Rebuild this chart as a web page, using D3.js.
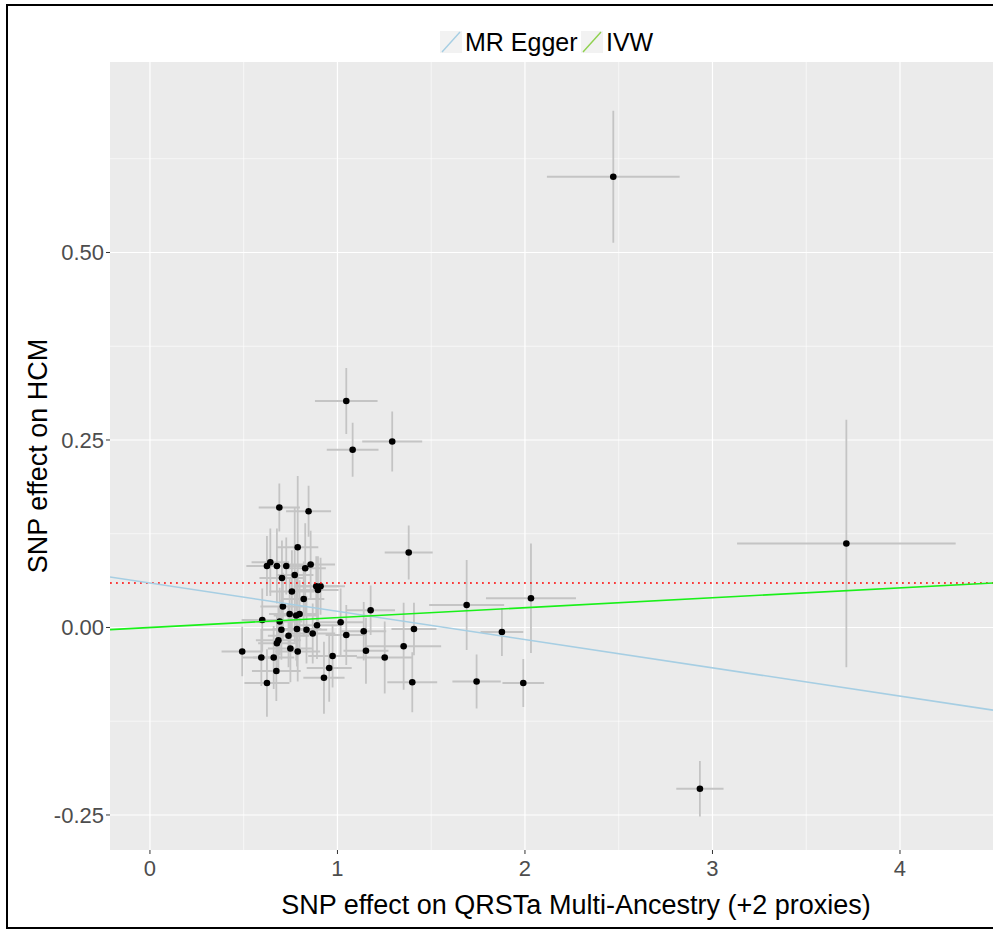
<!DOCTYPE html>
<html lang="en">
<head>
  <meta charset="UTF-8">
  <title>MR scatter plot</title>
  <script src="https://d3js.org/d3.v7.min.js"></script>
  <style>
    body, html { margin: 0; padding: 0; background: #fff; }
    svg { display: block; font-family: "Liberation Sans", Arial, sans-serif; }
    .tick-label { font-size: 22px; fill: #4d4d4d; }
    .axis-title { font-size: 27px; fill: #000; }
    .legend-text { font-size: 25px; fill: #000; }
  </style>
</head>
<body>
  <svg id="chart" width="993" height="930"></svg>
  <script>
    // SNP effects
    const snpX = [2.471, 1.047, 1.081, 1.292, 1.380, 3.714, 2.933, 1.689, 2.032, 1.877,
      1.742, 1.991, 1.399, 1.408, 1.353, 1.252, 1.177, 1.140, 1.152, 1.047,
      1.017, 0.974, 0.956, 0.928, 0.690, 0.846, 0.788, 0.624, 0.642, 0.677,
      0.727, 0.828, 0.857, 0.704, 0.772, 0.887, 0.910, 0.896, 0.757, 0.820,
      0.709, 0.745, 0.780, 0.798, 0.599, 0.692, 0.891, 0.701, 0.784, 0.835,
      0.868, 0.739, 0.685, 0.677, 0.492, 0.749, 0.788, 0.594, 0.660, 0.674, 0.624];
    const snpY = [0.601, 0.302, 0.237, 0.248, 0.100, 0.112, -0.215, 0.030, 0.039, -0.006,
      -0.072, -0.074, -0.073, -0.002, -0.025, -0.040, 0.023, -0.005, -0.031, -0.010,
      0.007, -0.038, -0.054, -0.067, 0.160, 0.155, 0.107, 0.082, 0.087, 0.082,
      0.082, 0.079, 0.084, 0.066, 0.070, 0.055, 0.055, 0.050, 0.048, 0.038,
      0.028, 0.018, 0.016, 0.018, 0.010, 0.008, 0.003, -0.003, -0.002, -0.003,
      -0.008, -0.011, -0.017, -0.021, -0.032, -0.028, -0.032, -0.040, -0.040, -0.058, -0.074];
    const seX = [0.354, 0.167, 0.138, 0.160, 0.128, 0.583, 0.126, 0.200, 0.240, 0.114,
      0.129, 0.111, 0.133, 0.120, 0.200, 0.150, 0.130, 0.120, 0.120, 0.110,
      0.120, 0.130, 0.120, 0.110, 0.110, 0.120, 0.110, 0.110, 0.100, 0.120,
      0.120, 0.110, 0.130, 0.120, 0.100, 0.120, 0.130, 0.110, 0.120, 0.110,
      0.120, 0.110, 0.120, 0.100, 0.110, 0.120, 0.120, 0.110, 0.130, 0.110,
      0.120, 0.110, 0.120, 0.100, 0.110, 0.120, 0.120, 0.100, 0.110, 0.130, 0.120];
    const seY = [0.088, 0.044, 0.036, 0.040, 0.036, 0.165, 0.037, 0.060, 0.073, 0.032,
      0.036, 0.032, 0.040, 0.035, 0.058, 0.048, 0.033, 0.039, 0.044, 0.040,
      0.045, 0.042, 0.045, 0.048, 0.032, 0.034, 0.095, 0.040, 0.045, 0.050,
      0.038, 0.060, 0.045, 0.050, 0.090, 0.040, 0.038, 0.045, 0.055, 0.050,
      0.045, 0.048, 0.060, 0.045, 0.042, 0.045, 0.045, 0.040, 0.050, 0.045,
      0.040, 0.042, 0.045, 0.040, 0.033, 0.045, 0.040, 0.038, 0.042, 0.040, 0.045];

    // fitted lines
    const methods = ["MR Egger", "IVW"];
    const intercepts = [0.0593, 0];
    const slopes = [-0.0377, 0.0132];
    const lineColors = ["#a6cee3", "#19f019"];
    const keyColors = ["#a6cee3", "#8fd14f"];
    const eggerIntercept = 0.0593;

    const xTicks = [0, 1, 2, 3, 4];
    const yTicks = [-0.25, 0, 0.25, 0.5];
    const xMinor = [0.5, 1.5, 2.5, 3.5, 4.5];
    const yMinor = [-0.125, 0.125, 0.375, 0.625];

    const panel = { left: 110, right: 993, top: 62, bottom: 850 };
    const svg = d3.select("#chart");

    // outer frame
    svg.append("rect")
      .attr("x", 7).attr("y", 5).attr("width", 1000).attr("height", 923)
      .attr("fill", "none").attr("stroke", "#000").attr("stroke-width", 2);

    const x = d3.scaleLinear().domain([-0.213, 4.496]).range([panel.left, panel.right]);
    const y = d3.scaleLinear().domain([-0.2967, 0.754]).range([panel.bottom, panel.top]);

    svg.append("defs").append("clipPath").attr("id", "clip")
      .append("rect")
      .attr("x", panel.left).attr("y", panel.top)
      .attr("width", panel.right - panel.left).attr("height", panel.bottom - panel.top);

    svg.append("rect")
      .attr("x", panel.left).attr("y", panel.top)
      .attr("width", panel.right - panel.left).attr("height", panel.bottom - panel.top)
      .attr("fill", "#ebebeb");

    const g = svg.append("g").attr("clip-path", "url(#clip)");

    // grid
    g.selectAll(".xminor").data(xMinor).enter().append("line")
      .attr("x1", d => x(d)).attr("x2", d => x(d))
      .attr("y1", panel.top).attr("y2", panel.bottom)
      .attr("stroke", "#fff").attr("stroke-width", 0.6);
    g.selectAll(".yminor").data(yMinor).enter().append("line")
      .attr("y1", d => y(d)).attr("y2", d => y(d))
      .attr("x1", panel.left).attr("x2", panel.right)
      .attr("stroke", "#fff").attr("stroke-width", 0.6);
    g.selectAll(".xmajor").data(xTicks).enter().append("line")
      .attr("x1", d => x(d)).attr("x2", d => x(d))
      .attr("y1", panel.top).attr("y2", panel.bottom)
      .attr("stroke", "#fff").attr("stroke-width", 1.2);
    g.selectAll(".ymajor").data(yTicks).enter().append("line")
      .attr("y1", d => y(d)).attr("y2", d => y(d))
      .attr("x1", panel.left).attr("x2", panel.right)
      .attr("stroke", "#fff").attr("stroke-width", 1.2);

    // error bars
    const idx = d3.range(snpX.length);
    g.selectAll(".ebx").data(idx).enter().append("line")
      .attr("x1", i => x(snpX[i] - seX[i])).attr("x2", i => x(snpX[i] + seX[i]))
      .attr("y1", i => y(snpY[i])).attr("y2", i => y(snpY[i]))
      .attr("stroke", "#c4c4c4").attr("stroke-width", 1.8);
    g.selectAll(".eby").data(idx).enter().append("line")
      .attr("x1", i => x(snpX[i])).attr("x2", i => x(snpX[i]))
      .attr("y1", i => y(snpY[i] - seY[i])).attr("y2", i => y(snpY[i] + seY[i]))
      .attr("stroke", "#c4c4c4").attr("stroke-width", 1.8);

    // points
    g.selectAll(".pt").data(idx).enter().append("circle")
      .attr("cx", i => x(snpX[i])).attr("cy", i => y(snpY[i]))
      .attr("r", 3.3).attr("fill", "#000");

    // red dotted intercept line
    g.append("line")
      .attr("x1", panel.left).attr("x2", panel.right)
      .attr("y1", y(eggerIntercept)).attr("y2", y(eggerIntercept))
      .attr("stroke", "#ff0000").attr("stroke-width", 1.6)
      .attr("stroke-dasharray", "1.8,4.2");

    // regression lines
    const xd = x.domain();
    methods.forEach((m, k) => {
      g.append("line")
        .attr("x1", x(xd[0])).attr("y1", y(intercepts[k] + slopes[k] * xd[0]))
        .attr("x2", x(xd[1])).attr("y2", y(intercepts[k] + slopes[k] * xd[1]))
        .attr("stroke", lineColors[k]).attr("stroke-width", 1.6);
    });

    // axes ticks and labels
    svg.selectAll(".xt").data(xTicks).enter().append("line")
      .attr("x1", d => x(d)).attr("x2", d => x(d))
      .attr("y1", panel.bottom).attr("y2", panel.bottom + 4)
      .attr("stroke", "#333").attr("stroke-width", 1);
    svg.selectAll(".xl").data(xTicks).enter().append("text")
      .attr("class", "tick-label")
      .attr("x", d => x(d)).attr("y", panel.bottom + 26)
      .attr("text-anchor", "middle")
      .text(d => d3.format("d")(d));
    svg.selectAll(".yt").data(yTicks).enter().append("line")
      .attr("y1", d => y(d)).attr("y2", d => y(d))
      .attr("x1", panel.left - 4).attr("x2", panel.left)
      .attr("stroke", "#333").attr("stroke-width", 1);
    svg.selectAll(".yl").data(yTicks).enter().append("text")
      .attr("class", "tick-label")
      .attr("x", panel.left - 6).attr("y", d => y(d))
      .attr("dy", "0.35em")
      .attr("text-anchor", "end")
      .text(d => d3.format(".2f")(d).replace("\u2212", "-"));

    svg.append("text").attr("class", "axis-title")
      .attr("x", 576).attr("y", 914)
      .attr("text-anchor", "middle")
      .text("SNP effect on QRSTa Multi-Ancestry (+2 proxies)");
    svg.append("text").attr("class", "axis-title")
      .attr("transform", "translate(47," + ((panel.top + panel.bottom) / 2) + ") rotate(-90)")
      .attr("text-anchor", "middle")
      .text("SNP effect on HCM");

    // legend
    const keyX = [440, 581];
    methods.forEach((m, k) => {
      const lg = svg.append("g").attr("transform", "translate(" + keyX[k] + ",31)");
      lg.append("rect").attr("width", 22).attr("height", 22).attr("fill", "#f2f2f2");
      lg.append("line")
        .attr("x1", 2).attr("y1", 21).attr("x2", 20).attr("y2", 1)
        .attr("stroke", keyColors[k]).attr("stroke-width", 1.4);
      lg.append("text").attr("class", "legend-text")
        .attr("x", 25).attr("y", 11).attr("dy", "0.36em")
        .text(m);
    });
  </script>
</body>
</html>
